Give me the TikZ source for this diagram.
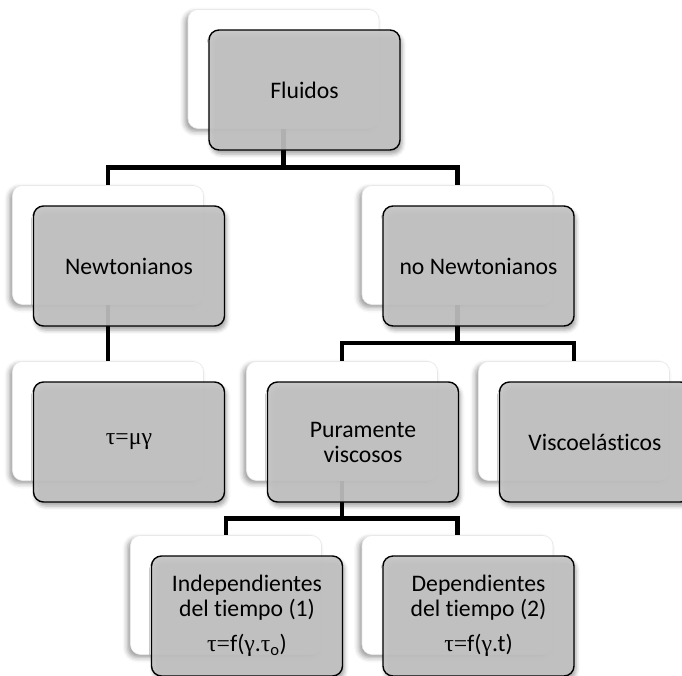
\documentclass[tikz,border=0pt]{standalone}
\usepackage{fontspec}
\setmainfont{Carlito}[Ligatures={NoCommon}]
\newfontfamily\grk{Liberation Serif}
\usetikzlibrary{shadows.blur}
\tikzset{
 backbox/.style={rectangle, rounded corners=10pt, minimum width=191pt, minimum height=119pt,
   fill=white, draw=black!9, line width=0.6pt,
   blur shadow={shadow xshift=-3pt, shadow yshift=-3pt, shadow opacity=40, shadow blur radius=5pt}},
 frontbox/.style={rectangle, rounded corners=10pt, minimum width=191pt, minimum height=120pt,
   fill=black!23, fill opacity=0.9, text opacity=1, draw=black, draw opacity=1, line width=1.4pt,
   align=center, font=\fontsize{23.7}{25}\selectfont, xshift=21pt, yshift=-21pt,
   blur shadow={shadow xshift=2pt, shadow yshift=-4pt, shadow opacity=40, shadow blur radius=4pt}},
 conn/.style={line width=4.5pt, black, line join=miter}
}
\begin{document}
\begin{tikzpicture}[x=1pt,y=-1pt]
\useasboundingbox (0,0) rectangle (682,675);
% node positions
\coordinate (fP) at (283.5,69);
\coordinate (nP) at (108,245);
\coordinate (nnP) at (457.5,245);
\coordinate (tP) at (108,421);
\coordinate (pP) at (342,421);
\coordinate (vP) at (574,421);
\coordinate (iP) at (226,595);
\coordinate (dP) at (457.5,595);
% bus levels
\coordinate (b1) at (0,167.5);
\coordinate (b2) at (0,343);
\coordinate (b3) at (0,518.5);
% connectors
\draw[conn] (fP) -- (fP |- b1);
\draw[conn] (nP) ++(0,-60) |- (b1 -| nnP) -- ++(0,17.5);
\draw[conn] (nP) -- (tP);
\draw[conn] (nnP) -- (nnP |- b2);
\draw[conn] (pP) ++(0,-60) |- (b2 -| vP) -- ++(0,18);
\draw[conn] (pP) -- (pP |- b3);
\draw[conn] (iP) ++(0,-60) |- (b3 -| dP) -- ++(0,18);
% boxes
\node[backbox] (f) at (fP) {};
\node[frontbox] (f2) at (f) {Fluidos};
\node[backbox] (n) at (nP) {};
\node[frontbox] (n2) at (n) {Newtonianos};
\node[backbox] (nn) at (nnP) {};
\node[frontbox] (nn2) at (nn) {no Newtonianos};
\node[backbox] (t) at (tP) {};
\node[frontbox] (t2) at (t) {{\grk τ=μγ}};
\node[backbox] (p) at (pP) {};
\node[frontbox] (p2) at (p) {Puramente\\viscosos};
\node[backbox] (v) at (vP) {};
\node[frontbox] (v2) at (v) {Viscoelásticos};
\node[backbox] (i) at (iP) {};
\node[frontbox] (i2) at (i) {Independientes\\del tiempo (1)\\[10pt]{\grk τ=}f({\grk γ}.{\grk τ}\textsubscript{o})};
\node[backbox] (d) at (dP) {};
\node[frontbox] (d2) at (d) {Dependientes\\del tiempo (2)\\[10pt]{\grk τ=}f({\grk γ}.t)};
\end{tikzpicture}
\end{document}
